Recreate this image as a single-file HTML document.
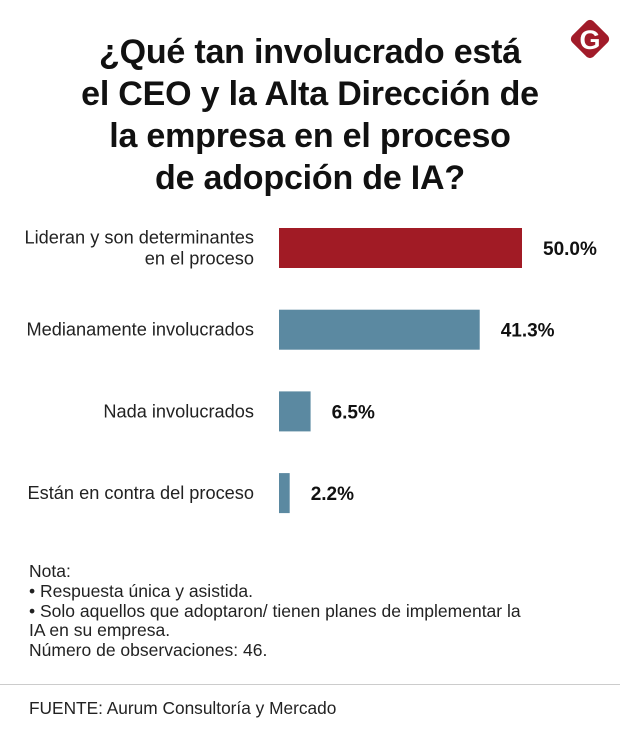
<!DOCTYPE html>
<html><head><meta charset="utf-8">
<style>
body{margin:0;width:620px;height:740px;background:#fff;font-family:"Liberation Sans",sans-serif;position:relative;overflow:hidden;color:#111}
#title{position:absolute;left:0;top:31px;width:620px;text-align:center;font-weight:bold;font-size:34px;line-height:42px;letter-spacing:-0.2px}
#logo{position:absolute;left:565px;top:14px}
#notes{position:absolute;left:29px;top:562px;font-size:17.5px;line-height:19.8px;color:#222}
#sep{position:absolute;left:0;top:684px;width:620px;height:1px;background:#ccc}
#src{position:absolute;left:29px;top:698px;font-size:17.3px;color:#222}
</style></head><body>
<div id="title">¿Qué tan involucrado está<br>el CEO y la Alta Dirección de<br>la empresa en el proceso<br>de adopción de IA?</div>
<svg id="logo" width="50" height="50" viewBox="0 0 50 50">
<rect x="10" y="10" width="30" height="30" rx="5" transform="rotate(45 25 25)" fill="#a11b29"/>
<text x="25" y="35" text-anchor="middle" font-family="Liberation Sans" font-weight="bold" font-size="27" fill="#fff">G</text>
</svg>
<svg id="chart" width="620" height="540" style="position:absolute;left:0;top:0"></svg>
<div id="notes">Nota:<br>• Respuesta única y asistida.<br>• Solo aquellos que adoptaron/ tienen planes de implementar la<br>IA en su empresa.<br>Número de observaciones: 46.</div>
<div id="sep"></div>
<div id="src">FUENTE: Aurum Consultoría y Mercado</div>
<script>
const categories=[["Lideran y son determinantes","en el proceso"],["Medianamente involucrados"],["Nada involucrados"],["Están en contra del proceso"]];
const values=[50.0,41.3,6.5,2.2];
const valueLabels=["50.0%","41.3%","6.5%","2.2%"];
const colors=["#a11b25","#5b89a1","#5b89a1","#5b89a1"];
const svg=document.getElementById('chart');
const NS='http://www.w3.org/2000/svg';
const x0=279,scale=243/50;
const xPos=v=>x0+v*scale;
const yPos=i=>228+i*81.7;
const bh=40;
values.forEach((v,i)=>{
 const r=document.createElementNS(NS,'rect');
 r.setAttribute('x',x0);r.setAttribute('y',yPos(i));
 r.setAttribute('width',xPos(v)-x0);r.setAttribute('height',bh);
 r.setAttribute('fill',colors[i]);
 
 
 svg.appendChild(r);
 const t=document.createElementNS(NS,'text');
 t.setAttribute('x',xPos(v)+21);t.setAttribute('y',yPos(i)+bh/2+7);
 t.setAttribute('font-size','19');t.setAttribute('font-weight','bold');
 t.setAttribute('font-family','Liberation Sans');t.setAttribute('fill','#111');
 t.textContent=valueLabels[i];
 
 
 svg.appendChild(t);
 const lines=categories[i];
 const c=document.createElementNS(NS,'text');
 c.setAttribute('text-anchor','end');c.setAttribute('font-size','18.2');
 c.setAttribute('font-family','Liberation Sans');c.setAttribute('fill','#222');
 
 
 const startY=yPos(i)+bh/2+6-(lines.length-1)*10.5;
 lines.forEach((l,j)=>{
  const ts=document.createElementNS(NS,'tspan');
  ts.setAttribute('x',254);ts.setAttribute('y',startY+j*21);
  ts.textContent=l;c.appendChild(ts);
 });
 svg.appendChild(c);
});
</script>
</body></html>
